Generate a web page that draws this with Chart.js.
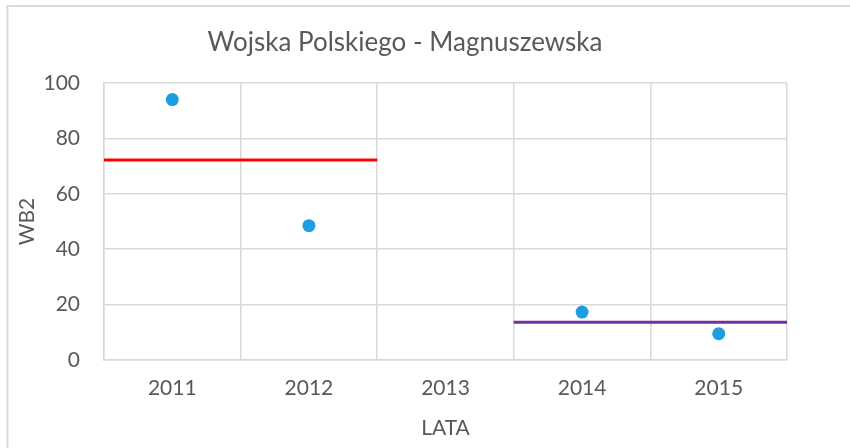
<!DOCTYPE html>
<html>
<head>
<meta charset="utf-8">
<script src="https://cdn.jsdelivr.net/npm/chart.js@4"></script>
<style>
  html, body { margin: 0; padding: 0; background: #fff; }
  #wrap { width: 850px; height: 448px; position: relative; }
</style>
</head>
<body>
<div id="wrap"><canvas id="wb2Chart" width="850" height="448"></canvas></div>
<script>
// data
const years = ['2011', '2012', '2013', '2014', '2015'];
const wb2Values = [94, 48.5, null, 17.3, 9.5];
const yTicks = [0, 20, 40, 60, 80, 100];

// horizontal reference levels and the years they cover
const redLevel = 72.2;
const redYears = ['2011', '2012'];
const purpleLevel = 13.6;
const purpleYears = ['2014', '2015'];

const textColor = '#595959';
const gridColor = '#d9d9d9';
const fontFamily = 'Lato, "Open Sans", sans-serif';

// level line from the left edge of the first year to the right edge of the last
function levelLine(level, span) {
    return [
        { x: years.indexOf(span[0]) - 0.5, y: level },
        { x: years.indexOf(span[span.length - 1]) + 0.5, y: level }
    ];
}

// light frame round the whole chart
const framePlugin = {
    id: 'frame',
    beforeDraw(chart) {
        const c = chart.ctx;
        c.save();
        c.strokeStyle = gridColor;
        c.lineWidth = 2;
        c.beginPath();
        c.moveTo(7.5, chart.height + 5);
        c.lineTo(7.5, 6);
        c.lineTo(chart.width + 5, 6);
        c.stroke();
        c.restore();
    }
};

const ctx = document.getElementById('wb2Chart').getContext('2d');

const wb2Chart = new Chart(ctx, {
    type: 'line',
    data: {
        labels: years,
        datasets: [
            {
                label: 'WB2',
                data: wb2Values,
                showLine: false,
                pointRadius: 6.5,
                pointBackgroundColor: '#1e9de3',
                pointBorderWidth: 0,
                order: 0
            },
            {
                label: 'red',
                data: levelLine(redLevel, redYears),
                xAxisID: 'x2',
                borderColor: '#ff0000',
                borderWidth: 3,
                pointRadius: 0,
                order: 1
            },
            {
                label: 'purple',
                data: levelLine(purpleLevel, purpleYears),
                xAxisID: 'x2',
                borderColor: '#7030a0',
                borderWidth: 3,
                pointRadius: 0,
                order: 1
            }
        ]
    },
    options: {
        responsive: false,
        animation: false,
        layout: { padding: { left: 23, right: 63, top: 0, bottom: 0 } },
        plugins: {
            legend: { display: false },
            tooltip: { enabled: false },
            title: {
                display: true,
                text: 'Wojska Polskiego - Magnuszewska',
                color: textColor,
                font: { family: fontFamily, size: 26, weight: 'normal' },
                padding: { top: 27.4, bottom: 24.4 }
            }
        },
        scales: {
            x: {
                type: 'category',
                offset: true,
                grid: { offset: true, color: gridColor, lineWidth: 1.5, drawTicks: false },
                border: { color: gridColor, width: 1.5 },
                ticks: { color: textColor, font: { family: fontFamily, size: 21 }, padding: 16 },
                title: {
                    display: true,
                    text: 'LATA',
                    color: textColor,
                    font: { family: fontFamily, size: 21 },
                    padding: { top: 0, bottom: 7 }
                },
                afterFit(scale) { scale.height = 88; }
            },
            x2: {
                type: 'linear',
                display: false,
                min: -0.5,
                max: years.length - 0.5
            },
            y: {
                min: yTicks[0],
                max: yTicks[yTicks.length - 1],
                afterBuildTicks(scale) { scale.ticks = yTicks.map(v => ({ value: v })); },
                grid: { color: gridColor, lineWidth: 1.5, drawTicks: false },
                border: { color: gridColor, width: 1.5 },
                ticks: { color: textColor, font: { family: fontFamily, size: 21 }, padding: 24 },
                title: {
                    display: true,
                    text: 'WB2',
                    color: textColor,
                    font: { family: fontFamily, size: 21 },
                    padding: { top: -8.5, bottom: 0 }
                },
                afterFit(scale) { scale.width = 81; }
            }
        }
    },
    plugins: [framePlugin]
});
</script>
</body>
</html>
